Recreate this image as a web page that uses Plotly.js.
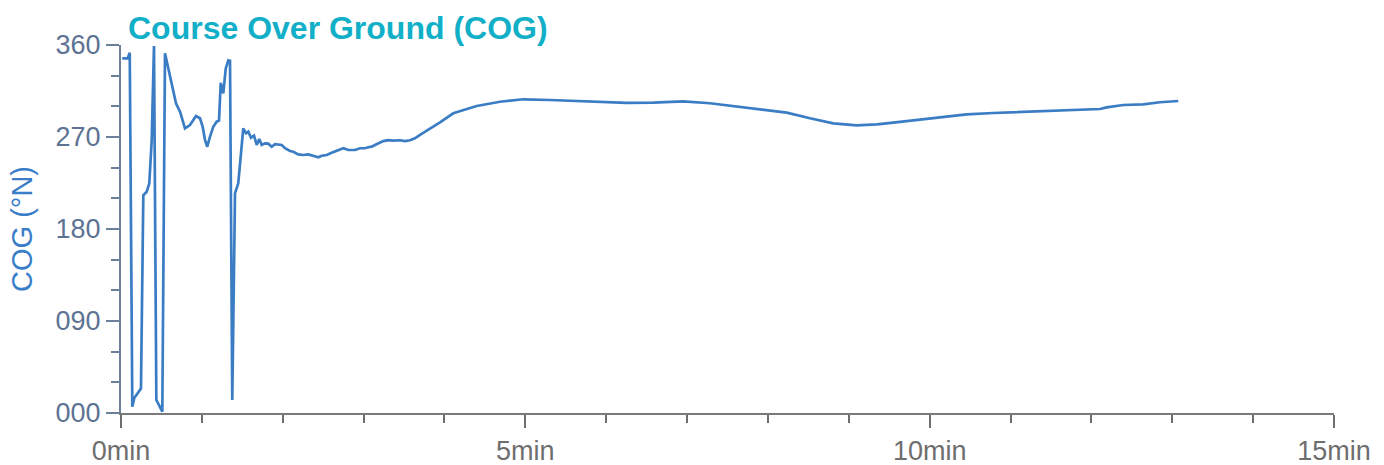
<!DOCTYPE html>
<html>
<head>
<meta charset="utf-8">
<script src="https://cdn.plot.ly/plotly-3.0.1.min.js"></script>
<style>
html,body{margin:0;padding:0;background:#fff;}
#chart{width:1384px;height:465px;}
</style>
</head>
<body>
<div id="chart"></div>
<script>
// Elapsed time (minutes)
const timeMin = [
  0.016, 0.083, 0.108, 0.140, 0.164, 0.247, 0.276, 0.318, 0.350, 0.380,
  0.408, 0.437, 0.470, 0.511, 0.544, 0.606, 0.680, 0.730, 0.791, 0.853,
  0.927, 0.977, 1.010, 1.039, 1.067, 1.101, 1.141, 1.183, 1.212, 1.233,
  1.265, 1.295, 1.327, 1.348, 1.376, 1.410, 1.450, 1.512, 1.546, 1.574,
  1.608, 1.645, 1.678, 1.710, 1.740, 1.781, 1.821, 1.864, 1.904, 1.987,
  2.028, 2.090, 2.131, 2.192, 2.254, 2.316, 2.371, 2.440, 2.482, 2.544,
  2.605, 2.667, 2.749, 2.811, 2.894, 2.955, 3.017, 3.058, 3.100, 3.141,
  3.182, 3.243, 3.305, 3.367, 3.450, 3.512, 3.573, 3.635, 3.697, 3.780,
  3.862, 3.945, 4.109, 4.398, 4.687, 4.975, 5.305, 5.635, 5.923, 6.253,
  6.582, 6.953, 7.283, 7.571, 7.902, 8.232, 8.520, 8.808, 9.097, 9.345,
  9.550, 9.839, 10.168, 10.457, 10.787, 11.157, 11.487, 11.818, 12.106, 12.189,
  12.394, 12.641, 12.848, 13.074
];
// Course over ground (degrees true)
const cogDeg = [
  347, 347, 352.5, 6.2, 14.7, 24, 213, 216.5, 224.7, 267,
  359, 12.7, 7.8, 1.3, 352, 329, 303, 294.8, 278.5, 281.7,
  290.5, 288.3, 280, 267, 260.5, 270.3, 280, 285, 286, 323,
  312.7, 337, 345, 344.6, 12.7, 215, 224.7, 278.5, 273.6, 275.2,
  269.3, 271.3, 262.2, 268, 262.2, 263.8, 263.5, 260.5, 262.9, 262.2,
  259, 256.3, 255.6, 253, 252.4, 253, 251.4, 250.1, 251.7, 252.4,
  254.6, 256.3, 259, 257.3, 257.3, 259, 259, 260, 260.5, 262.2,
  263.8, 266, 267, 266.4, 266.8, 266, 266.8, 268.7, 272, 275.9,
  280, 284.4, 293.2, 300.3, 304.5, 306.9, 306.2, 305.2, 304, 303.3,
  303.6, 304.9, 303, 300.3, 297, 293.8, 288.3, 283.4, 281.4, 282.4,
  284, 286.6, 289.9, 292.2, 293.5, 294.5, 295.4, 296.4, 297.4, 299,
  301.3, 302, 304, 305.2
];
const chartTitle = "Course Over Ground (COG)";
const yTitle = "COG (°N)";

const FONT = "Liberation Sans, Arial, Helvetica, sans-serif";

Plotly.newPlot("chart", [{
  x: timeMin,
  y: cogDeg,
  type: "scatter",
  mode: "lines",
  line: {color: "#3b7dc4", width: 2.7},
  hoverinfo: "skip",
  showlegend: false
}], {
  width: 1384,
  height: 465,
  margin: {l: 121, r: 50, t: 45, b: 52, pad: 0},
  paper_bgcolor: "#ffffff",
  plot_bgcolor: "#ffffff",
  title: {
    text: "<b>" + chartTitle + "</b>",
    font: {family: FONT, size: 32, color: "#12afc8"},
    xref: "container", x: 128/1384, xanchor: "left",
    yref: "container", y: 1 - 28/465, yanchor: "middle"
  },
  xaxis: {
    range: [0, 15],
    tick0: 0, dtick: 5,
    ticksuffix: "min",
    showgrid: false, zeroline: false,
    showline: true, linecolor: "#7a7a7a", linewidth: 2,
    ticks: "outside", ticklen: 13, tickwidth: 2, tickcolor: "#6e6e6e",
    minor: {dtick: 1, tick0: 0, ticks: "outside", ticklen: 8, tickwidth: 2, tickcolor: "#6e6e6e", showgrid: false},
    tickfont: {family: FONT, size: 27, color: "#6e6e6e"},
    fixedrange: true
  },
  yaxis: {
    range: [0, 360],
    tick0: 0, dtick: 90,
    tickformat: "03d",
    showgrid: false, zeroline: false,
    showline: true, linecolor: "#6d809a", linewidth: 2,
    ticks: "outside", ticklen: 13, tickwidth: 2, tickcolor: "#6d809a",
    minor: {dtick: 30, tick0: 0, ticks: "outside", ticklen: 8, tickwidth: 2, tickcolor: "#6d809a", showgrid: false},
    tickfont: {family: FONT, size: 27, color: "#5d7394"},
    title: {text: yTitle, font: {family: FONT, size: 29, color: "#3a7dc9"}, standoff: 14},
    automargin: false,
    fixedrange: true
  }
}, {displayModeBar: false, staticPlot: true});
</script>
</body>
</html>
